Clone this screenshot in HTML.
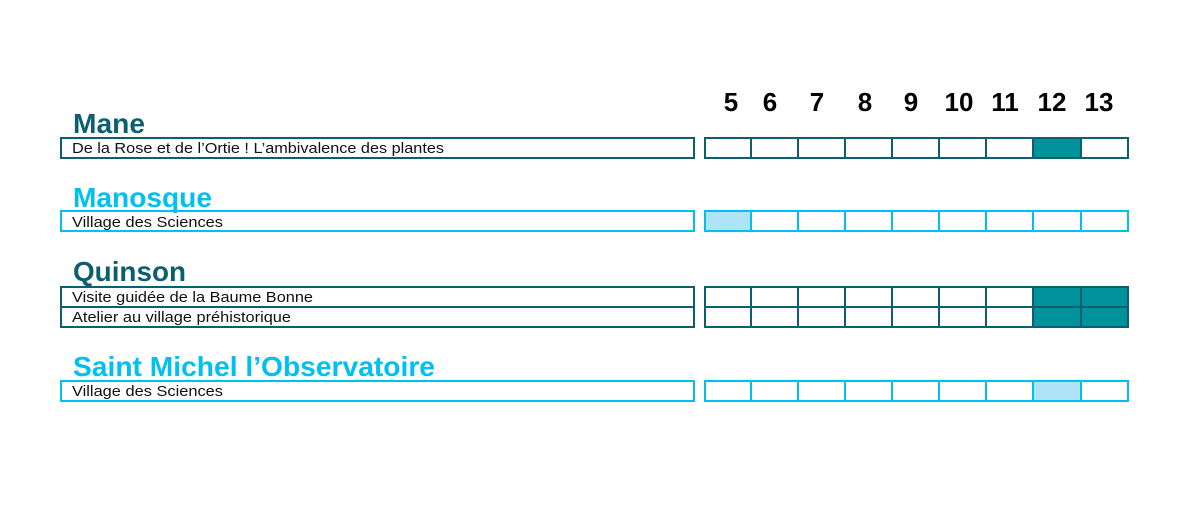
<!DOCTYPE html>
<html><head><meta charset="utf-8"><style>body{margin:0;background:#fff}svg{display:block}</style></head><body>
<svg width="1200" height="528" xmlns="http://www.w3.org/2000/svg" font-family="Liberation Sans, sans-serif">
<g font-weight="bold" font-size="26" fill="#000" text-anchor="middle">
<text x="731" y="111">5</text><text x="770" y="111">6</text><text x="817" y="111">7</text><text x="865" y="111">8</text><text x="911" y="111">9</text><text x="959" y="111">10</text><text x="1005" y="111">11</text><text x="1052" y="111">12</text><text x="1099" y="111">13</text>
</g>
<g font-weight="bold" font-size="28">
<text x="73" y="133" fill="#0b5f6e" textLength="72" lengthAdjust="spacingAndGlyphs">Mane</text>
<text x="73" y="207" fill="#00c0f0" textLength="139" lengthAdjust="spacingAndGlyphs">Manosque</text>
<text x="73" y="281" fill="#0b5f6e" textLength="113" lengthAdjust="spacingAndGlyphs">Quinson</text>
<text x="73" y="376" fill="#00c0f0" textLength="362" lengthAdjust="spacingAndGlyphs">Saint Michel l’Observatoire</text>
</g>
<g font-size="15" fill="#111" lengthAdjust="spacingAndGlyphs">
<text x="72" y="153" textLength="372" lengthAdjust="spacingAndGlyphs">De la Rose et de l’Ortie ! L’ambivalence des plantes</text>
<text x="72" y="227" textLength="151" lengthAdjust="spacingAndGlyphs">Village des Sciences</text>
<text x="72" y="302" textLength="241" lengthAdjust="spacingAndGlyphs">Visite guidée de la Baume Bonne</text>
<text x="72" y="322" textLength="219" lengthAdjust="spacingAndGlyphs">Atelier au village préhistorique</text>
<text x="72" y="396" textLength="151" lengthAdjust="spacingAndGlyphs">Village des Sciences</text>
</g>
<g fill="none" stroke-width="2">
<rect x="61" y="138" width="633" height="20" stroke="#0b5f6e"/>
<rect x="61" y="211" width="633" height="20" stroke="#00c0f0"/>
<rect x="61" y="287" width="633" height="20" stroke="#0b5f6e"/>
<rect x="61" y="307" width="633" height="20" stroke="#0b5f6e"/>
<rect x="61" y="381" width="633" height="20" stroke="#00c0f0"/>
</g>
<rect x="1033" y="138" width="48" height="20" fill="#00929a"/>
<rect x="705" y="211" width="46" height="20" fill="#aee3f8"/>
<rect x="1033" y="287" width="95" height="40" fill="#00929a"/>
<rect x="1033" y="381" width="48" height="20" fill="#aee3f8"/>
<g fill="none" stroke-width="2">
<g stroke="#0b5f6e">
<rect x="705" y="138" width="423" height="20"/>
<rect x="705" y="287" width="423" height="40"/>
<line x1="705" y1="307" x2="1128" y2="307"/>
<path d="M751 138v20M798 138v20M845 138v20M892 138v20M939 138v20M986 138v20M1033 138v20M1081 138v20"/>
<path d="M751 287v40M798 287v40M845 287v40M892 287v40M939 287v40M986 287v40M1033 287v40M1081 287v40"/>
</g>
<g stroke="#00c0f0">
<rect x="705" y="211" width="423" height="20"/>
<rect x="705" y="381" width="423" height="20"/>
<path d="M751 211v20M798 211v20M845 211v20M892 211v20M939 211v20M986 211v20M1033 211v20M1081 211v20"/>
<path d="M751 381v20M798 381v20M845 381v20M892 381v20M939 381v20M986 381v20M1033 381v20M1081 381v20"/>
</g>
</g>
</svg>
</body></html>
